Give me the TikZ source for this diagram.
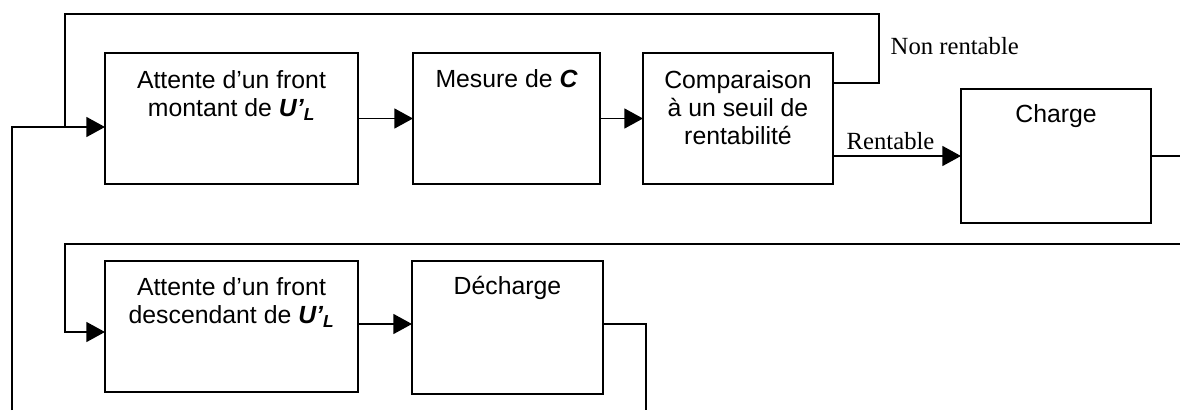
\documentclass[tikz,border=0pt]{standalone}
\usepackage{fontspec}
\setmainfont{Liberation Sans}
\newfontfamily\lblfont{Liberation Serif}
\usetikzlibrary{arrows.meta}
\begin{document}
\begin{tikzpicture}[x=0.75pt,y=-0.75pt,line width=1.1pt,
  blk/.style 2 args={draw,inner sep=0pt,outer sep=0pt,minimum width=#1*0.75pt,minimum height=#2*0.75pt},
  txt/.style={font=\fontsize{18.6}{21}\selectfont,align=center,inner sep=0pt},
  lbl/.style={font=\lblfont\fontsize{18.5}{21}\selectfont,inner sep=0pt,anchor=base west},
  arr/.style={-{Triangle[length=14pt,width=15pt]}}]
\useasboundingbox (0,0) rectangle (1180,410);
% boxes
\node[blk={253}{131}] (b1) at (231.5,118.5) {};
\node[blk={187}{131}] (b2) at (506.5,118.5) {};
\node[blk={190}{131}] (b3) at (738,118.5) {};
\node[blk={190}{134}] (b4) at (1056,156) {};
\node[blk={253}{131}] (b5) at (231.5,326.5) {};
\node[blk={191}{133}] (b6) at (507.5,327.5) {};
% texts
\node[txt,anchor=north] (t1) at (231.5,69.5) {Attente d’un front\\montant de {\bfseries\itshape U’\textsubscript{L}}};
\node[txt,anchor=base] (t2) at (506.5,88) {Mesure de {\bfseries\itshape C}};
\node[txt,anchor=north] (t3) at (738,69.5) {Comparaison\\à un seuil de\\rentabilité};
\node[txt,anchor=base] (t4) at (1056,122) {Charge};
\node[txt,anchor=north] (t5) at (231.5,276.5) {Attente d’un front\\descendant de {\bfseries\itshape U’\textsubscript{L}}};
\node[txt,anchor=base] (t6) at (507.5,294) {Décharge};
\node[lbl] (nr) at (890,55) {Non rentable};
\node[lbl] (r) at (846,149) {Rentable};
% coordinates
\coordinate (loopR) at (879,14);
\coordinate (loopL) at (65,14);
\coordinate (in1) at (65,127);
\coordinate (fbB) at (12,410);
\coordinate (fbT) at (12,127);
\coordinate (chR) at (1180,156);
\coordinate (longR) at (1180,244);
\coordinate (longL) at (65,244);
\coordinate (in5) at (65,332);
\coordinate (dcR) at (646,324);
\coordinate (dcB) at (646,410);
% connectors
\draw[arr] (b1.east) -- (b2.west);
\draw[arr] (b2.east) -- (b3.west);
\draw[arr] (b3.east |- b4.west) -- (b4.west);
\draw (b3.east |- 0,83) -| (loopR) -- (loopL) -- (in1);
\draw[arr] (fbB) -- (fbT) -- (b1.west |- fbT);
\draw (b4.east) -- (chR);
\draw[arr] (longR) -- (longL) -- (in5) -- (b5.west |- in5);
\draw[arr] (b5.east |- dcR) -- (b6.west |- dcR);
\draw (b6.east |- dcR) -- (dcR) -- (dcB);
\end{tikzpicture}
\end{document}
